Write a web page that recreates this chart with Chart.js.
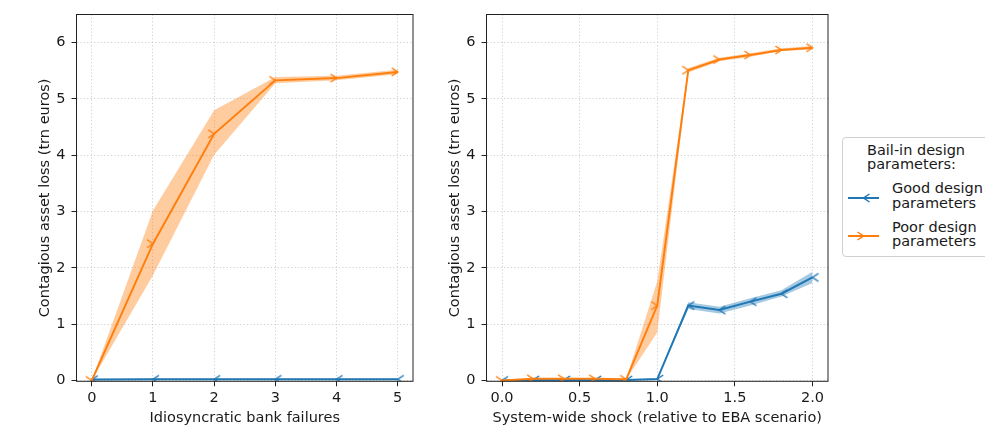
<!DOCTYPE html>
<html><head><meta charset="utf-8">
<script src="https://cdn.jsdelivr.net/npm/chart.js@4.4.1/dist/chart.umd.min.js"></script>
<style>
html,body{margin:0;padding:0;background:#fff;width:985px;height:427px;overflow:hidden;font-family:"DejaVu Sans",sans-serif;}
#c1{position:absolute;left:0;top:0;}
#c2{position:absolute;left:410px;top:0;}
#legend{position:absolute;left:842px;top:137px;width:170px;height:120px;border:1px solid #d0d0d0;border-radius:4px;box-sizing:border-box;background:#fff;}
.lt{position:absolute;font-size:14.5px;line-height:14.5px;color:#1a1a1a;white-space:nowrap;font-family:"DejaVu Sans",sans-serif;}
.hd{position:absolute;}
</style></head>
<body>
<canvas id="c1" width="420" height="427"></canvas>
<canvas id="c2" width="425" height="427"></canvas>
<div id="legend"></div>
<div class="lt" style="left:867px;top:142.7px;">Bail-in design<br>parameters:</div>
<canvas class="hd" id="h1" width="40" height="16" style="left:845px;top:189.7px;"></canvas>
<div class="lt" style="left:892px;top:181px;">Good design<br>parameters</div>
<canvas class="hd" id="h2" width="40" height="16" style="left:845px;top:228px;"></canvas>
<div class="lt" style="left:892px;top:219.7px;">Poor design<br>parameters</div>
<script>
// ---------------- data ----------------
const failures = [0, 1, 2, 3, 4, 5];
const goodFailures = [0.015, 0.02, 0.02, 0.02, 0.02, 0.02];
const goodFailuresLow = [0.005, 0.01, 0.01, 0.01, 0.01, 0.01];
const goodFailuresHigh = [0.025, 0.03, 0.03, 0.03, 0.03, 0.03];
const poorFailures = [0.0, 2.43, 4.38, 5.33, 5.37, 5.48];
const poorFailuresLow = [0.0, 1.87, 4.01, 5.28, 5.33, 5.44];
const poorFailuresHigh = [0.0, 3.02, 4.80, 5.39, 5.41, 5.52];

const shock = [0.0, 0.2, 0.4, 0.6, 0.8, 1.0, 1.2, 1.4, 1.6, 1.8, 2.0];
const goodShock = [0.0, 0.01, 0.01, 0.01, 0.01, 0.025, 1.33, 1.25, 1.40, 1.54, 1.83];
const goodShockLow = [0.0, 0.005, 0.005, 0.005, 0.005, 0.015, 1.27, 1.19, 1.33, 1.49, 1.73];
const goodShockHigh = [0.0, 0.015, 0.015, 0.015, 0.015, 0.035, 1.39, 1.31, 1.46, 1.60, 1.93];
const poorShock = [0.0, 0.03, 0.03, 0.03, 0.02, 1.33, 5.51, 5.70, 5.78, 5.87, 5.91];
const poorShockLow = [0.0, 0.025, 0.025, 0.025, 0.015, 0.85, 5.47, 5.67, 5.75, 5.85, 5.88];
const poorShockHigh = [0.0, 0.035, 0.035, 0.035, 0.025, 1.76, 5.55, 5.73, 5.81, 5.90, 5.94];

const failureTicks = [0, 1, 2, 3, 4, 5];
const shockTicks = [0.0, 0.5, 1.0, 1.5, 2.0];
const lossTicks = [0, 1, 2, 3, 4, 5, 6];

const seriesNames = ['Good design parameters', 'Poor design parameters'];
const yTitle = 'Contagious asset loss (trn euros)';
const xTitleFailures = 'Idiosyncratic bank failures';
const xTitleShock = 'System-wide shock (relative to EBA scenario)';

// ---------------- style ----------------
const BLUE = '#1f77b4', ORANGE = '#ff7f0e';
const BLUE_BAND = 'rgba(31,119,180,0.4)', ORANGE_BAND = 'rgba(255,127,14,0.4)';
const FONT = {family: '"DejaVu Sans", sans-serif', size: 14.5};
const TEXT = '#1a1a1a';

function chevron(g, cx, cy, color, dir) {
  // dir = 1 : ">" pointing right (vertex at point), dir = -1 : "<"
  g.save();
  g.strokeStyle = color; g.lineWidth = 1.5; g.lineCap = 'butt'; g.lineJoin = 'miter';
  g.beginPath();
  g.moveTo(cx - dir * 6, cy - 4);
  g.lineTo(cx, cy);
  g.lineTo(cx - dir * 6, cy + 4);
  g.stroke();
  g.restore();
}
function markerImage(color, dir) {
  const c = document.createElement('canvas');
  c.width = 16; c.height = 12;
  chevron(c.getContext('2d'), 8, 6, color, dir);
  return c;
}
const goodMarker = markerImage(BLUE, -1);
const poorMarker = markerImage(ORANGE, 1);

function pts(xs, ys) { return xs.map((x, i) => ({x: x, y: ys[i]})); }

function datasets(xs, good, goodLo, goodHi, poor, poorLo, poorHi) {
  const band = (data, color, fill, order) => ({
    data: pts(xs, data), borderWidth: 0, pointRadius: 0, backgroundColor: color,
    borderColor: color, fill: fill, order: order, tension: 0
  });
  return [
    band(goodLo, BLUE_BAND, false, 5),
    band(goodHi, BLUE_BAND, '-1', 4),
    band(poorLo, ORANGE_BAND, false, 3),
    band(poorHi, ORANGE_BAND, '-1', 2),
    {label: seriesNames[0], data: pts(xs, good), borderColor: BLUE, borderWidth: 2, fill: false,
     pointStyle: goodMarker, pointRadius: 5, order: 1, tension: 0},
    {label: seriesNames[1], data: pts(xs, poor), borderColor: ORANGE, borderWidth: 2, fill: false,
     pointStyle: poorMarker, pointRadius: 5, order: 0, tension: 0}
  ];
}

const frame = {
  id: 'frame',
  afterDatasetsDraw(chart) {
    const {ctx, chartArea: a} = chart;
    ctx.save();
    ctx.strokeStyle = '#222';
    ctx.lineWidth = 1;
    ctx.strokeRect(a.left, a.top, a.right - a.left, a.bottom - a.top);
    ctx.restore();
  }
};

function options(xMin, xMax, xTicks, fmt, xTitle, padRight) {
  return {
    responsive: false, animation: false,
    layout: {padding: {top: 14.5, right: padRight, bottom: 0, left: 0}},
    plugins: {legend: {display: false}, tooltip: {enabled: false}},
    scales: {
      x: {
        type: 'linear', min: xMin, max: xMax,
        afterBuildTicks: s => { s.ticks = xTicks.map(v => ({value: v})); },
        afterFit: s => { s.height = 45.7; s.paddingLeft = 0; s.paddingRight = 0; },
        grid: {color: '#c4c4c4', lineWidth: 0.8, tickLength: 5, tickColor: '#222', tickWidth: 1},
        border: {display: false, dash: [1.2, 2.2]},
        ticks: {font: FONT, color: TEXT, padding: 3, autoSkip: false, maxRotation: 0, callback: fmt},
        title: {display: true, text: xTitle, font: FONT, color: TEXT, padding: {top: 0, bottom: 0}}
      },
      y: {
        type: 'linear', min: -0.015, max: 6.5,
        afterBuildTicks: s => { s.ticks = lossTicks.map(v => ({value: v})); },
        afterFit: s => { s.width = 76.5; s.paddingTop = 0; s.paddingBottom = 0; },
        grid: {color: '#c4c4c4', lineWidth: 0.8, tickLength: 5, tickColor: '#222', tickWidth: 1},
        border: {display: false, dash: [1.2, 2.2]},
        ticks: {font: FONT, color: TEXT, padding: 6, autoSkip: false, callback: v => String(v)},
        title: {display: true, text: yTitle, font: FONT, color: TEXT, padding: {top: 37, bottom: 0}}
      }
    }
  };
}

new Chart(document.getElementById('c1'), {
  type: 'line',
  data: {datasets: datasets(failures, goodFailures, goodFailuresLow, goodFailuresHigh,
                            poorFailures, poorFailuresLow, poorFailuresHigh)},
  options: options(-0.25, 5.25, failureTicks, v => String(v), xTitleFailures, 1.5),
  plugins: [frame]
});
new Chart(document.getElementById('c2'), {
  type: 'line',
  data: {datasets: datasets(shock, goodShock, goodShockLow, goodShockHigh,
                            poorShock, poorShockLow, poorShockHigh)},
  options: options(-0.1, 2.1, shockTicks, v => Number(v).toFixed(1), xTitleShock, 6.5),
  plugins: [frame]
});

// legend handles
function handle(id, color, dir) {
  const g = document.getElementById(id).getContext('2d');
  g.strokeStyle = color; g.lineWidth = 2;
  g.beginPath(); g.moveTo(3, 8); g.lineTo(34, 8); g.stroke();
  chevron(g, 18.5, 8, color, dir);
}
handle('h1', BLUE, -1);
handle('h2', ORANGE, 1);
</script>
</body></html>
